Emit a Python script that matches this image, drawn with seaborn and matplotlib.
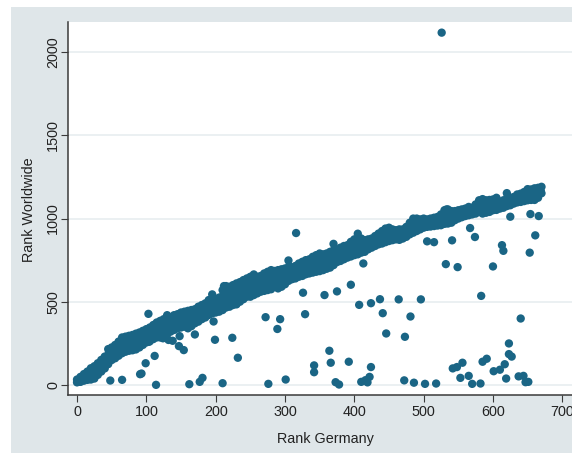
import matplotlib
matplotlib.use("Agg")
import matplotlib.pyplot as plt
import pandas as pd
import seaborn as sns
from matplotlib.patches import Rectangle

# Main band, read along its upper and lower edge every 5 ranks
band_rank = list(range(0, 675, 5))
band_upper = [32, 48, 65, 80, 100, 112, 130, 150, 170, 215, 225, 240, 260, 285, 290, 295, 300, 308, 315, 325,
              335, 345, 360, 375, 385, 395, 419, 405, 419, 425, 435, 440, 445, 450, 455, 470, 480, 490, 510, 544,
              510, 525, 570, 594, 590, 600, 610, 618, 630, 640, 650, 664, 650, 655, 670, 680, 690, 685, 690, 695,
              700, 748, 705, 715, 730, 740, 750, 755, 770, 780, 790, 785, 790, 800, 848, 810, 825, 835, 840, 860,
              875, 909, 880, 870, 875, 880, 895, 910, 925, 940, 945, 935, 930, 935, 935, 950, 975, 1000, 1000, 995,
              1000, 995, 1000, 1005, 1010, 1025, 1050, 1055, 1045, 1045, 1050, 1055, 1060, 1070, 1065, 1085, 1110, 1117, 1110, 1112,
              1115, 1125, 1100, 1110, 1153, 1125, 1130, 1145, 1150, 1160, 1177, 1175, 1182, 1185, 1191]
band_lower = [15, 18, 25, 30, 32, 38, 60, 80, 99, 125, 149, 160, 175, 190, 199, 205, 208, 213, 225, 240,
              255, 263, 275, 285, 285, 300, 305, 320, 330, 340, 345, 350, 340, 353, 370, 380, 395, 405, 420, 430,
              435, 440, 450, 465, 470, 480, 484, 500, 515, 530, 530, 540, 550, 560, 565, 570, 575, 590, 580, 590,
              605, 625, 635, 640, 650, 655, 665, 670, 675, 680, 684, 690, 698, 705, 720, 738, 745, 755, 765, 772,
              780, 785, 795, 800, 815, 825, 835, 845, 850, 858, 865, 870, 875, 872, 880, 890, 905, 915, 925, 935,
              945, 950, 952, 955, 958, 960, 968, 970, 975, 990, 1000, 1008, 1015, 1020, 1025, 1030, 1040, 1030, 1035, 1040,
              1050, 1052, 1060, 1065, 1075, 1080, 1090, 1097, 1100, 1105, 1110, 1112, 1112, 1125, 1152]

# Same band, filled in between the edges at the ranks in between
mid_rank = list(range(2, 672, 5))
band_mid = [25, 40, 50, 62, 72, 82, 100, 118, 135, 175, 190, 205, 220, 240, 245, 255, 255, 265, 272, 285,
            300, 305, 320, 330, 340, 350, 365, 365, 375, 385, 392, 395, 395, 405, 415, 425, 440, 450, 470, 485,
            475, 485, 515, 530, 535, 540, 550, 560, 575, 585, 590, 600, 600, 610, 620, 625, 635, 640, 640, 645,
            665, 680, 682, 690, 700, 710, 718, 722, 735, 742, 750, 750, 755, 765, 780, 785, 795, 805, 810, 825,
            840, 850, 845, 845, 855, 860, 875, 885, 898, 910, 915, 910, 910, 912, 915, 930, 950, 965, 970, 972,
            980, 975, 980, 985, 990, 1000, 1018, 1022, 1020, 1028, 1030, 1038, 1045, 1050, 1055, 1070, 1085, 1085, 1085, 1090,
            1095, 1095, 1085, 1095, 1110, 1108, 1118, 1125, 1130, 1140, 1150, 1150, 1155, 1170]
mid2_rank = list(range(304, 674, 5))
band_mid2 = [640, 655, 660, 668, 678, 685, 695, 700, 708, 715, 722, 725, 735, 745, 758, 768, 775, 785, 790, 800,
             812, 820, 822, 830, 838, 850, 860, 868, 878, 885, 890, 892, 895, 900, 908, 925, 935, 945, 955, 960,
             962, 965, 968, 975, 978, 985, 992, 998, 1005, 1015, 1022, 1030, 1035, 1042, 1048, 1055, 1055, 1060, 1062, 1070,
             1072, 1075, 1080, 1088, 1095, 1100, 1110, 1112, 1120, 1125, 1130, 1132, 1140, 1165]
mid3_rank = list(range(1, 671, 5))
band_mid3 = [28, 44, 58, 72, 88, 98, 118, 138, 155, 195, 208, 222, 240, 262, 268, 275, 280, 288, 295, 305,
             318, 325, 340, 352, 362, 372, 392, 385, 398, 405, 415, 418, 420, 428, 435, 448, 460, 470, 490, 515,
             492, 505, 542, 562, 562, 570, 580, 590, 602, 612, 620, 632, 625, 632, 645, 652, 662, 662, 665, 670,
             685, 715, 695, 702, 715, 725, 735, 740, 752, 762, 772, 768, 772, 782, 815, 798, 810, 820, 825, 842,
             858, 880, 862, 858, 865, 870, 885, 898, 912, 925, 930, 922, 920, 924, 925, 940, 962, 982, 985, 984,
             990, 985, 990, 995, 1000, 1012, 1034, 1038, 1032, 1036, 1040, 1046, 1052, 1060, 1060, 1078, 1098, 1100, 1098, 1100,
             1105, 1110, 1092, 1102, 1130, 1116, 1124, 1135, 1140, 1150, 1162, 1162, 1168, 1178]
mid4_rank = list(range(4, 304, 5))
band_mid4 = [20, 32, 40, 48, 56, 72, 90, 108, 125, 155, 172, 185, 200, 218, 225, 232, 235, 245, 255, 270,
             282, 290, 302, 310, 322, 330, 345, 348, 358, 365, 372, 372, 375, 388, 398, 410, 422, 438, 450, 458,
             460, 468, 490, 502, 508, 512, 525, 538, 552, 558, 565, 575, 580, 590, 595, 600, 612, 612, 612, 618]

# Points away from the band
out_rank = [103, 212, 197, 199, 224, 232, 170, 148, 147, 154, 112, 99, 91, 93, 48, 65, 114, 162, 177, 181,
            210, 276, 301, 272, 293, 289, 124, 132, 138, 104, 316, 326, 329, 357, 375, 395, 413, 407, 424, 437,
            441, 464, 496, 481, 446, 473, 364, 366, 342, 342, 392, 424, 373, 378, 410, 416, 422, 419, 472, 486,
            502, 518, 542, 548, 556, 553, 565, 570, 582, 585, 591, 601, 610, 617, 619, 623, 623, 627, 637, 644,
            647, 651, 640, 583, 532, 549, 600, 505, 515, 541, 567, 574, 613, 615, 653, 661, 625, 654, 666, 526,
            533]
out_world = [427, 594, 381, 271, 283, 163, 303, 293, 233, 209, 174, 130, 64, 68, 26, 30, 0, 4, 18, 42,
             10, 6, 32, 407, 395, 336, 280, 270, 265, 259, 913, 554, 425, 540, 562, 602, 730, 481, 491, 515,
             431, 514, 514, 411, 309, 289, 205, 133, 117, 76, 139, 107, 16, 2, 18, 28, 48, 15, 27, 13,
             6, 8, 99, 107, 133, 42, 54, 6, 8, 139, 157, 82, 91, 124, 38, 249, 185, 170, 51, 54,
             16, 18, 399, 535, 726, 708, 712, 863, 858, 869, 943, 889, 840, 806, 795, 899, 1011, 1027, 1015, 2118,
             1055]

df = pd.DataFrame({
    "rank_germany": band_rank + band_rank + mid_rank + mid2_rank + mid3_rank + mid4_rank + out_rank,
    "rank_world": band_upper + band_lower + band_mid + band_mid2 + band_mid3 + band_mid4 + out_world,
})

bg = "#dfe6e9"
dark = "#3a3a3a"

sns.set_theme(style="white", font="Liberation Sans")
fig = plt.figure(figsize=(5.72, 4.53), dpi=100, facecolor="white")
W, H = 572, 453
fig.add_artist(Rectangle((11 / W, 0), 1, 1 - 7 / H, transform=fig.transFigure,
                         facecolor=bg, edgecolor="none", zorder=-1))

ax = fig.add_axes([68 / W, 1 - 394.5 / H, 1 - 68 / W, (394.5 - 22) / H])
sns.scatterplot(data=df, x="rank_germany", y="rank_world", ax=ax, s=36,
                color="#1a6585", edgecolor="none", linewidth=0, clip_on=True, zorder=3)

ax.set_xlim(-13, 714)
ax.set_ylim(-58, 2182)
ax.set_xticks(range(0, 800, 100))
ax.set_yticks(range(0, 2500, 500))
ax.grid(axis="y", color="#e6ecef", linewidth=1.1)
ax.set_axisbelow(True)
for side in ["top", "right"]:
    ax.spines[side].set_visible(False)
for side in ["left", "bottom"]:
    ax.spines[side].set_color(dark)
    ax.spines[side].set_linewidth(1.1)
ax.tick_params(axis="both", left=True, bottom=True, length=5, width=0.8, color=dark,
               labelsize=10.4, labelcolor="#222222")
ax.tick_params(axis="x", pad=2.5)
ax.tick_params(axis="y", pad=0.5)
plt.setp(ax.get_yticklabels(), rotation=90, va="center")
ax.set_xlabel("Rank Germany", fontsize=10.4, color="#222222")
ax.set_ylabel("Rank Worldwide", fontsize=10.4, color="#222222")
ax.xaxis.set_label_coords((325 - 68) / (W - 68), -(432 - 394.5) / (394.5 - 22), transform=ax.transAxes)
ax.yaxis.set_label_coords(-(68 - 36) / (W - 68), (394.5 - 210) / (394.5 - 22), transform=ax.transAxes)

fig.savefig("out.png", dpi=100, facecolor=fig.get_facecolor())
plt.close(fig)
